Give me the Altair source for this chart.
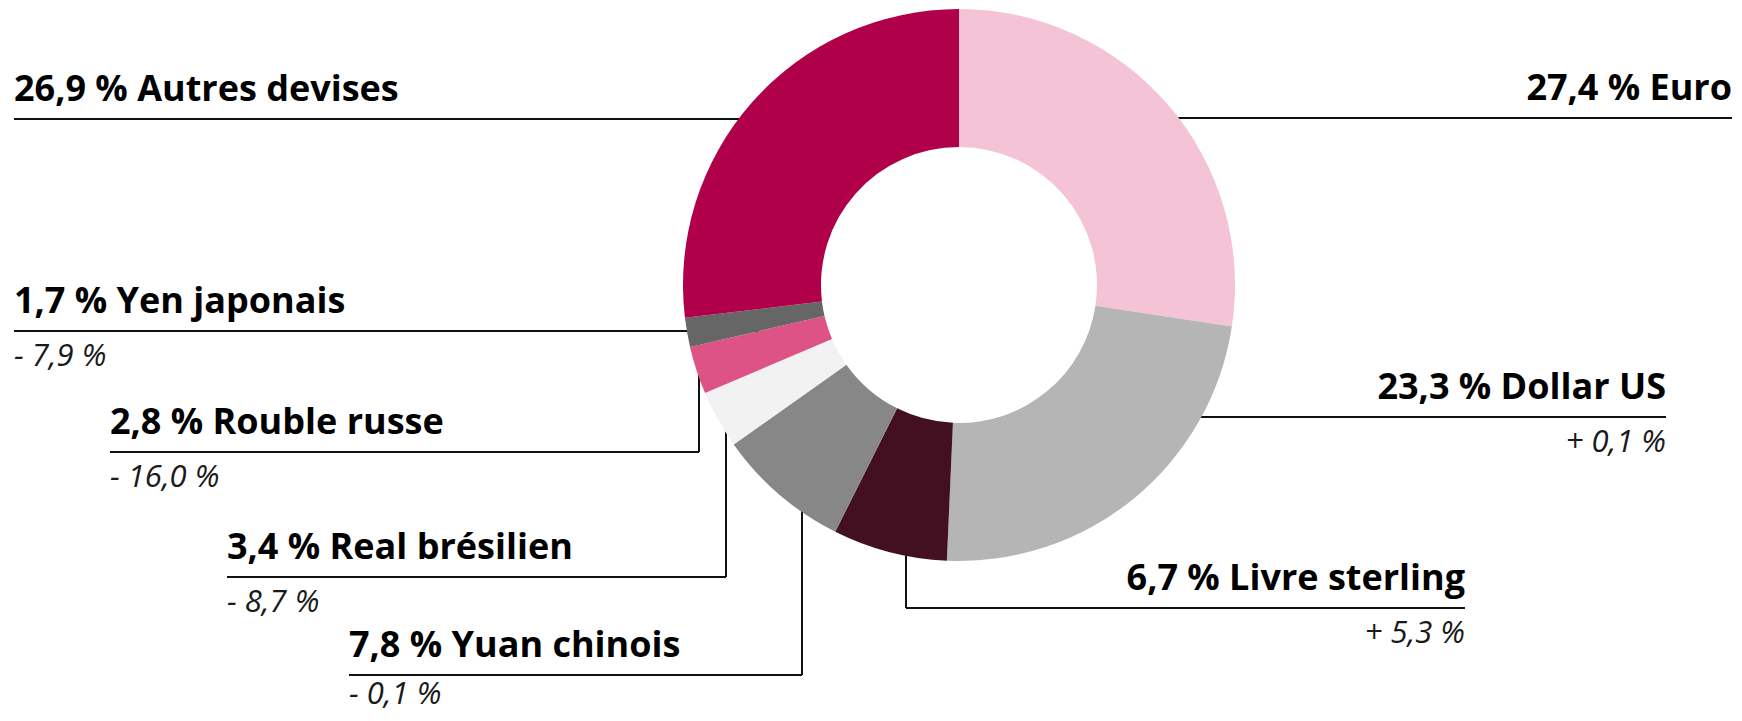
import altair as alt
import pandas as pd

# ---------------- data ----------------
devises = ["Euro", "Dollar US", "Livre sterling", "Yuan chinois",
           "Real brésilien", "Rouble russe", "Yen japonais", "Autres devises"]
parts = [27.4, 23.3, 6.7, 7.8, 3.4, 2.8, 1.7, 26.9]
variations = ["", "+ 0,1 %", "+ 5,3 %", "- 0,1 %", "- 8,7 %", "- 16,0 %", "- 7,9 %", ""]
couleurs = ["#F4C4D6", "#B5B5B5", "#431022", "#878787",
            "#F2F2F2", "#DE5386", "#666666", "#B0004A"]

# ---------------- layout (pixels of the plot area) ----------------
W, H = 1726, 705
CX, CY = 951, 277
R_OUT, R_IN = 276, 138
# side, text anchor x, leader y, x where the leader reaches the ring, top of vertical elbow
layout = {
    "Euro":           ("right", 1724, 110, 1100, None),
    "Dollar US":      ("right", 1658, 409, 1100, None),
    "Livre sterling": ("right", 1457, 600, 898, 480),
    "Yuan chinois":   ("left", 341, 667, 794, 420),
    "Real brésilien": ("left", 219, 569, 718, 380),
    "Rouble russe":   ("left", 102, 444, 691, 320),
    "Yen japonais":   ("left", 6, 323, 750, None),
    "Autres devises": ("left", 6, 111, 800, None),
}
LABEL_UP = 18
SUB_DOWN = 35
SUB_MAX = H - 9

arcs = pd.DataFrame({"devise": devises, "part": parts, "ordre": list(range(len(devises)))})

rules, labels, subs = [], [], []
for d, p, v in zip(devises, parts, variations):
    side, tx, ly, inner, elbow = layout[d]
    rules.append({"x": tx, "x2": inner, "y": ly, "y2": ly})
    if elbow is not None:
        rules.append({"x": inner, "x2": inner, "y": ly, "y2": elbow})
    txt = f"{str(p).replace('.', ',')} % {d}"
    labels.append({"x": tx, "y": ly - LABEL_UP, "text": txt, "side": side})
    if v:
        subs.append({"x": tx, "y": min(ly + SUB_DOWN, SUB_MAX), "text": v, "side": side})

rules = pd.DataFrame(rules)
labels = pd.DataFrame(labels)
subs = pd.DataFrame(subs)

xs = alt.Scale(domain=[0, W], range=[0, W], nice=False, zero=False)
ys = alt.Scale(domain=[H, 0], nice=False, zero=False)

rule_layer = alt.Chart(rules).mark_rule(color="#111111", strokeWidth=2).encode(
    x=alt.X("x:Q", scale=xs, axis=None),
    x2="x2:Q",
    y=alt.Y("y:Q", scale=ys, axis=None),
    y2="y2:Q",
)

arc_layer = alt.Chart(arcs).mark_arc(outerRadius=R_OUT, innerRadius=R_IN).encode(
    theta=alt.Theta("part:Q", stack=True),
    order=alt.Order("ordre:Q", sort="ascending"),
    color=alt.Color("devise:N", scale=alt.Scale(domain=devises, range=couleurs), legend=None),
    x=alt.value(CX),
    y=alt.value(CY),
)


def text_layer(df, side, **kw):
    return alt.Chart(df).transform_filter(alt.datum.side == side).mark_text(
        align=side, baseline="alphabetic", font="Open Sans", **kw
    ).encode(
        x=alt.X("x:Q", scale=xs, axis=None),
        y=alt.Y("y:Q", scale=ys, axis=None),
        text="text:N",
    )


bold_kw = dict(fontSize=36, fontWeight="bold", color="#000000")
sub_kw = dict(fontSize=31, fontStyle="italic", fontWeight="normal", color="#1a1a1a")

chart = alt.layer(
    rule_layer,
    arc_layer,
    text_layer(labels, "left", **bold_kw),
    text_layer(labels, "right", **bold_kw),
    text_layer(subs, "left", **sub_kw),
    text_layer(subs, "right", **sub_kw),
).properties(
    width=W, height=H, autosize=alt.AutoSizeParams(type="none"), padding=0,
    background="white",
).configure_view(strokeWidth=0)

chart.save("out.html", embed_options={"renderer": "svg", "actions": False})
